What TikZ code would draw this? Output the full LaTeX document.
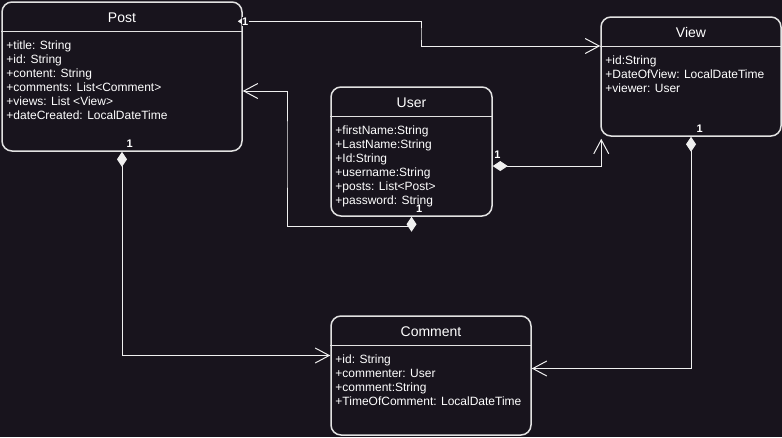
\documentclass[tikz,border=0pt]{standalone}
\usepackage{fontspec}
\setmainfont{Liberation Sans}
\usetikzlibrary{arrows.meta,positioning}
\definecolor{bg}{RGB}{24,20,29}
\definecolor{rand}{RGB}{226,226,226}
\definecolor{strek}{RGB}{240,240,240}
\tikzset{
    %Define style for class boxes
    klasse/.style={
           rectangle,
           rounded corners=10pt,
           draw=rand, line width=1.5pt,
           inner sep=0pt},
    tittel/.style={
           text=white,
           font=\fontsize{14}{16}\selectfont,
           inner sep=0pt},
    felt/.style={
           text=white,
           align=left,
           font=\fontsize{12}{14}\selectfont,
           inner sep=0pt},
    mult/.style={
           text=white,
           font=\fontsize{11}{12}\selectfont\bfseries,
           inner sep=0.5pt},
    % Define arrow style
    pil/.style={
           {Diamond[length=15pt,width=10pt]}-{Straight Barb[length=14pt,width=15pt]},
           draw=strek, line width=1pt}
}
\begin{document}
\begin{tikzpicture}[x=1pt,y=-1pt]
\fill[bg] (0,0) rectangle (782,437);
\useasboundingbox (0,0) rectangle (782,437);
 %classes
\node[klasse, minimum width=240pt, minimum height=149pt] (post) at (122,76.5) {};
\node[klasse, minimum width=180pt, minimum height=119pt] (view) at (691,76.5) {};
\node[klasse, minimum width=161pt, minimum height=129pt] (user) at (411.5,151.5) {};
\node[klasse, minimum width=200pt, minimum height=119pt] (comment) at (431,375.5) {};

 %headers
\foreach \k in {post,view,user,comment}
    \draw[rand, line width=1.5pt] ([yshift=-30pt]\k.north west) -- ([yshift=-30pt]\k.north east);

\node[tittel] at ([yshift=-16pt]post.north) {Post};
\node[tittel] at ([yshift=-16pt]view.north) {View};
\node[tittel] at ([yshift=-16pt]user.north) {User};
\node[tittel] at ([yshift=-16pt]comment.north) {Comment};

\node[felt, below right=39.5pt and 5pt of post.north west] (postfelt) {+title: String\\+id: String\\+content: String\\+comments: List<Comment>\\+views: List <View>\\+dateCreated: LocalDateTime};
\node[felt, below right=39.5pt and 5pt of view.north west] (viewfelt) {+id:String\\+DateOfView: LocalDateTime\\+viewer: User};
\node[felt, below right=39.5pt and 5pt of user.north west] (userfelt) {+firstName:String\\+LastName:String\\+Id:String\\+username:String\\+posts: List<Post>\\+password: String};
\node[felt, below right=39.5pt and 5pt of comment.north west] (commentfelt) {+id: String\\+commenter: User\\+comment:String\\+TimeOfComment: LocalDateTime};

 %connectors
\coordinate (knekk1) at (421,34);
\coordinate (knekk2) at (287,150);
\draw[pil, {Diamond[length=12pt,width=8pt]}-{Straight Barb[length=14pt,width=15pt]}]
    ([xshift=-5pt,yshift=-20pt]post.north east) -| (knekk1) |- ([yshift=30.5pt]view.west);
\draw[pil] (post.south) |- ([yshift=20pt]comment.west);
\draw[pil] (view.south) |- ([yshift=7pt]comment.east);
\draw[pil] (user.south) -- ++(0,10) -| (knekk2) |- ([yshift=-14.5pt]post.east);
\draw[pil] ([yshift=-14.5pt]user.east) -| ([xshift=1pt,yshift=-2pt]view.south west);

 %multiplicities
\node[mult, fill=bg] at ([xshift=2.5pt,yshift=-20pt]post.north east) {1};
\node[mult, above right=4pt and 4pt of post.south] {1};
\node[mult, above right=4pt and 5pt of view.south] {1};
\node[mult, above right=4pt and 4pt of user.south] {1};
\node[mult, above right=7pt and 1pt of {[yshift=-14.5pt]user.east}] {1};
\end{tikzpicture}
\end{document}
